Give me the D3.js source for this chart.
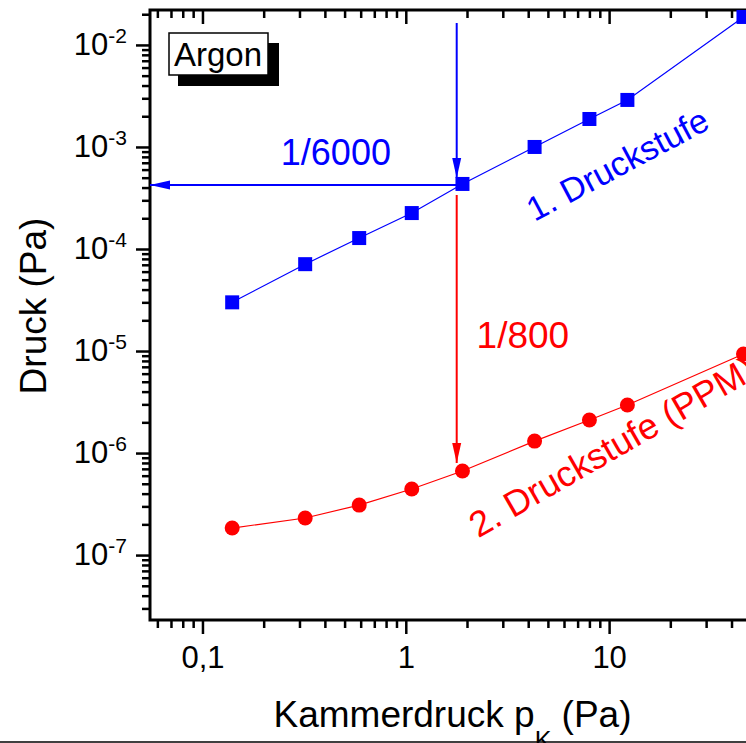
<!DOCTYPE html>
<html>
<head>
<meta charset="utf-8">
<script src="https://cdn.jsdelivr.net/npm/d3@7"></script>
<style>
  body { margin: 0; background: #fff; }
  svg { display: block; font-family: Arial, "Liberation Sans", sans-serif; }
</style>
</head>
<body>
<div id="chart"></div>
<script>
const width = 746;
const height = 743;
const marginLeft = 150;
const marginTop = 10;
const plotRight = 759;
const plotBottom = 620;

// Kammerdruck p_K (Pa) and pressures in the two stages (Pa)
const kammerdruck = [0.14, 0.32, 0.59, 1.07, 1.9, 4.3, 8.0, 12.3, 45.8];
const stufe1 = [3.0e-5, 7.1e-5, 1.28e-4, 2.25e-4, 4.34e-4, 1.0e-3, 1.88e-3, 2.89e-3, 1.88e-2];
const stufe2 = [1.84e-7, 2.31e-7, 3.09e-7, 4.44e-7, 6.67e-7, 1.31e-6, 2.11e-6, 2.96e-6, 9.35e-6];

// tick values
const xMajor = [0.1, 1, 10];
const xMajorLabels = ["0,1", "1", "10"];
const xMinor = [0.06, 0.07, 0.08, 0.09, 0.2, 0.3, 0.4, 0.5, 0.6, 0.7, 0.8, 0.9,
  2, 3, 4, 5, 6, 7, 8, 9, 20, 30, 40, 50];
const yExponents = [-7, -6, -5, -4, -3, -2];
const yMinorFactors = [2, 3, 4, 5, 6, 7, 8, 9];

// annotation arrows (data coordinates)
const arrowX = 1.78;
const arrowBlueTop = 1.64e-2, arrowBlueTip = 4.97e-4;
const arrowLeftY = 4.24e-4, arrowLeftTip = 0.0552;
const arrowRedTop = 3.39e-4, arrowRedTip = 7.98e-7;

const x = d3.scaleLog()
    .domain([0.0552, 54.6])
    .range([marginLeft, plotRight]);

const y = d3.scaleLog()
    .domain([2.31e-8, 2.2e-2])
    .range([plotBottom, marginTop]);

const svg = d3.select("#chart").append("svg")
    .attr("width", width)
    .attr("height", height)
    .attr("viewBox", [0, 0, width, height]);

svg.append("rect").attr("width", width).attr("height", height).attr("fill", "#fff");

// arrow markers
const defs = svg.append("defs");
[["arrowBlue", "#0000ff"], ["arrowRed", "#ff0000"]].forEach(([id, c]) => {
  defs.append("marker")
      .attr("id", id)
      .attr("markerUnits", "userSpaceOnUse")
      .attr("viewBox", "0 -5 20 10")
      .attr("refX", 20)
      .attr("refY", 0)
      .attr("markerWidth", 20)
      .attr("markerHeight", 10)
      .attr("orient", "auto")
    .append("path")
      .attr("d", "M0,-4.5L20,0L0,4.5Z")
      .attr("fill", c);
});

const yMinor = [];
yExponents.concat([-8]).forEach(e => yMinorFactors.forEach(f => {
  const v = f * Math.pow(10, e);
  if (v > y.domain()[0] && v < y.domain()[1]) yMinor.push(v);
}));
const yMajor = yExponents.map(e => Math.pow(10, e));

function styleAxis(g) {
  g.select(".domain").remove();
  g.selectAll(".tick line").attr("stroke", "#000").attr("stroke-width", 2.5);
}

// bottom axis (outward ticks)
svg.append("g")
    .attr("transform", `translate(0,${plotBottom})`)
    .call(d3.axisBottom(x).tickValues(xMinor).tickSize(8).tickFormat(""))
    .call(styleAxis);
svg.append("g")
    .attr("transform", `translate(0,${plotBottom})`)
    .call(d3.axisBottom(x).tickValues(xMajor).tickSize(14).tickPadding(12)
      .tickFormat((d, i) => xMajorLabels[i]))
    .call(styleAxis)
    .call(g => g.selectAll("text").attr("font-size", 31).attr("fill", "#000"));

// top axis (inward ticks)
svg.append("g")
    .attr("transform", `translate(0,${marginTop})`)
    .call(d3.axisBottom(x).tickValues(xMinor).tickSize(8).tickFormat(""))
    .call(styleAxis);
svg.append("g")
    .attr("transform", `translate(0,${marginTop})`)
    .call(d3.axisBottom(x).tickValues(xMajor).tickSize(14).tickFormat(""))
    .call(styleAxis);

// left axis (outward ticks)
svg.append("g")
    .attr("transform", `translate(${marginLeft},0)`)
    .call(d3.axisLeft(y).tickValues(yMinor).tickSize(8).tickFormat(""))
    .call(styleAxis);
svg.append("g")
    .attr("transform", `translate(${marginLeft},0)`)
    .call(d3.axisLeft(y).tickValues(yMajor).tickSize(14).tickPadding(9).tickFormat(""))
    .call(styleAxis)
    .call(g => g.selectAll(".tick text")
      .attr("font-size", 31)
      .attr("fill", "#000")
      .each(function(d, i) {
        const t = d3.select(this);
        t.append("tspan").text("10");
        t.append("tspan").attr("font-size", 21).attr("dy", -12).text(yExponents[i]);
      }));

// right axis (inward ticks)
svg.append("g")
    .attr("transform", `translate(${plotRight},0)`)
    .call(d3.axisLeft(y).tickValues(yMinor).tickSize(-8).tickFormat(""))
    .call(styleAxis);
svg.append("g")
    .attr("transform", `translate(${plotRight},0)`)
    .call(d3.axisLeft(y).tickValues(yMajor).tickSize(-14).tickFormat(""))
    .call(styleAxis);

// frame
svg.append("rect")
    .attr("x", marginLeft)
    .attr("y", marginTop)
    .attr("width", plotRight - marginLeft)
    .attr("height", plotBottom - marginTop)
    .attr("fill", "none")
    .attr("stroke", "#000")
    .attr("stroke-width", 3);

// series
const line = d3.line().x(d => x(d[0])).y(d => y(d[1]));
const s1 = d3.zip(kammerdruck, stufe1);
const s2 = d3.zip(kammerdruck, stufe2);

svg.append("path").datum(s1)
    .attr("d", line).attr("fill", "none").attr("stroke", "#0000ff").attr("stroke-width", 1.2);
svg.append("path").datum(s2)
    .attr("d", line).attr("fill", "none").attr("stroke", "#ff0000").attr("stroke-width", 1.2);

// arrows
svg.append("line")
    .attr("x1", x(arrowX)).attr("x2", x(arrowX))
    .attr("y1", y(arrowBlueTop)).attr("y2", y(arrowBlueTip))
    .attr("stroke", "#0000ff").attr("stroke-width", 2)
    .attr("marker-end", "url(#arrowBlue)");
svg.append("line")
    .attr("x1", x(arrowX)).attr("x2", x(arrowLeftTip))
    .attr("y1", y(arrowLeftY)).attr("y2", y(arrowLeftY))
    .attr("stroke", "#0000ff").attr("stroke-width", 2)
    .attr("marker-end", "url(#arrowBlue)");
svg.append("line")
    .attr("x1", x(arrowX)).attr("x2", x(arrowX))
    .attr("y1", y(arrowRedTop)).attr("y2", y(arrowRedTip))
    .attr("stroke", "#ff0000").attr("stroke-width", 2)
    .attr("marker-end", "url(#arrowRed)");

// markers
svg.append("g").attr("fill", "#0000ff")
  .selectAll("rect").data(s1).join("rect")
    .attr("x", d => x(d[0]) - 7)
    .attr("y", d => y(d[1]) - 7)
    .attr("width", 14).attr("height", 14);
svg.append("g").attr("fill", "#ff0000")
  .selectAll("circle").data(s2).join("circle")
    .attr("cx", d => x(d[0]))
    .attr("cy", d => y(d[1]))
    .attr("r", 7.5);

// labels
svg.append("text")
    .attr("x", x(0.453)).attr("y", y(6.67e-4))
    .attr("text-anchor", "middle").attr("font-size", 36).attr("fill", "#0000ff")
    .text("1/6000");
svg.append("text")
    .attr("x", x(2.23)).attr("y", y(1.07e-5))
    .attr("font-size", 37).attr("fill", "#ff0000")
    .text("1/800");
svg.append("text")
    .attr("transform", `translate(${x(4.3)},${y(1.84e-4)}) rotate(-28)`)
    .attr("font-size", 34).attr("fill", "#0000ff")
    .text("1. Druckstufe");
svg.append("text")
    .attr("transform", `translate(${x(2.27)},${y(1.45e-7)}) rotate(-30)`)
    .attr("font-size", 36).attr("fill", "#ff0000")
    .text("2. Druckstufe (PPM)");

// Argon box with shadow
svg.append("rect").attr("x", 178).attr("y", 43).attr("width", 101).attr("height", 43).attr("fill", "#000");
svg.append("rect").attr("x", 169).attr("y", 33).attr("width", 99).attr("height", 42)
    .attr("fill", "#fff").attr("stroke", "#000").attr("stroke-width", 1.5);
svg.append("text").attr("x", 218).attr("y", 66).attr("text-anchor", "middle")
    .attr("font-size", 33).text("Argon");

// axis titles
svg.append("text")
    .attr("x", (marginLeft + plotRight) / 2 - 2).attr("y", 727)
    .attr("text-anchor", "middle").attr("font-size", 37)
    .call(t => {
      t.append("tspan").text("Kammerdruck p");
      t.append("tspan").attr("font-size", 25).attr("dy", 22).text("K");
      t.append("tspan").attr("dy", -22).text(" (Pa)");
    });
svg.append("text")
    .attr("transform", `translate(46,306) rotate(-90)`)
    .attr("text-anchor", "middle").attr("font-size", 37)
    .text("Druck (Pa)");

// bottom border line
svg.append("line")
    .attr("x1", 0).attr("x2", width)
    .attr("y1", 742).attr("y2", 742)
    .attr("stroke", "#000").attr("stroke-width", 1.5);
</script>
</body>
</html>
